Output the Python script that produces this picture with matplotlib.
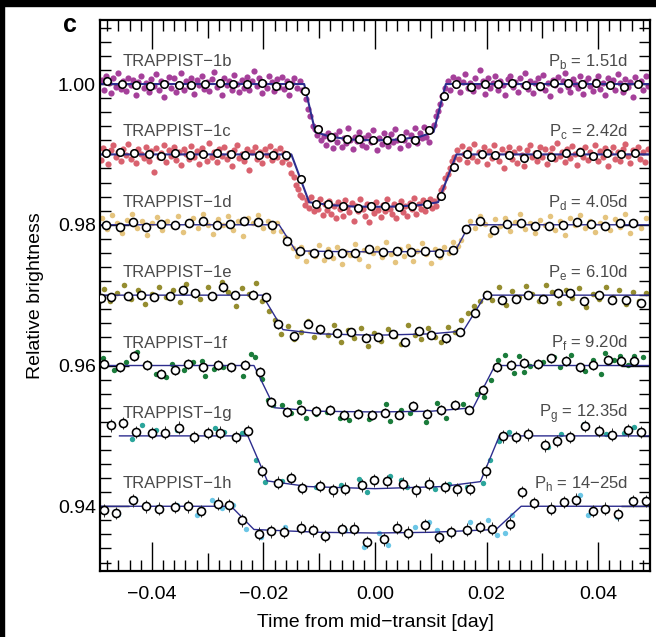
import numpy as np
import matplotlib
matplotlib.use("Agg")
import matplotlib.pyplot as plt
from matplotlib.ticker import MultipleLocator, FuncFormatter
from matplotlib.patches import Rectangle

plt.rcParams['font.family'] = ['Liberation Sans', 'DejaVu Sans']
plt.rcParams['mathtext.fontset'] = 'custom'
plt.rcParams['mathtext.rm'] = 'Liberation Sans'

# times are in 1e-3 day, fluxes in ppt relative to each curve's offset
planet_names = ['TRAPPIST−1b', 'TRAPPIST−1c', 'TRAPPIST−1d', 'TRAPPIST−1e',
                'TRAPPIST−1f', 'TRAPPIST−1g', 'TRAPPIST−1h']
planet_letters = ['b', 'c', 'd', 'e', 'f', 'g', 'h']
periods = ['1.51d', '2.42d', '4.05d', '6.10d', '9.20d', '12.35d', '14−25d']
offsets = [1.00, 0.99, 0.98, 0.97, 0.96, 0.95, 0.94]
bin_err = [0.25, 0.25, 0.45, 0.6, 0.7, 0.9, 0.9]

# --- TRAPPIST-1b
b_bin_t = [-48.1, -45.4, -42.9, -40.4, -37.9, -35.2, -32.9, -30.4, -27.7, -25.4, -23.0, -20.2, -17.8,
           -15.5, -12.5, -10.3, -7.9, -5.1, -2.8, -0.3, 2.2, 4.7, 7.2, 9.7, 12.3, 14.6, 17.2, 19.7,
           22.1, 24.6, 27.1, 29.6, 32.1, 34.6, 37.1, 39.6, 42.1, 44.6, 47.1]
b_bin_f = [0.47, 0, -0.14, -0.24, -0.05, -0.14, -0.14, -0.05, 0.09, -0.05, 0, 0.09, -0.24, -0.14,
           -0.95, -6.4, -7.5, -7.8, -7.8, -8.0, -7.9, -7.7, -8.0, -6.6, -1.7, 0, -0.47, -0.05, 0,
           0.09, -0.14, -0.24, 0.09, 0.19, -0.05, 0.09, -0.14, -0.38, 0]
b_model_t = [-49.3, -12.7, -10.7, -8.0, -4.0, 0.0, 4.0, 8.0, 10.5, 12.7, 49.3]
b_model_f = [0, 0, -6.8, -7.5, -7.9, -8.0, -7.9, -7.5, -6.8, 0, 0]
b_dots = [(-49.0, 0.6), (-48.6, -0.9), (-48.2, 1.1), (-47.7, 0.2), (-47.3, -1.3), (-46.9, 0.8), (-46.4, -0.4),
          (-46.0, 1.6), (-45.5, -0.7), (-45.1, 0.4), (-44.6, -1.0), (-44.2, 0.9), (-43.7, -0.2), (-43.3, 0.6),
          (-42.8, -1.5), (-42.4, 0.3), (-41.9, 1.2), (-41.5, -0.6), (-41.0, 0.1), (-40.6, -1.1), (-40.1, 0.7),
          (-39.7, -0.3), (-39.2, 1.4), (-38.8, -0.8), (-38.3, 0.5), (-37.9, -1.8), (-37.4, 0.2), (-37.0, 1.0),
          (-36.5, -0.5), (-36.1, 0.8), (-35.6, -1.2), (-35.2, 0.0), (-34.7, 1.5), (-34.3, -0.9), (-33.8, 0.4),
          (-33.4, -0.3), (-32.9, 0.9), (-32.5, -1.4), (-32.0, 0.6), (-31.6, -0.1), (-31.1, 1.1), (-30.7, -0.7),
          (-30.2, 0.3), (-29.8, -1.0), (-29.3, 0.7), (-28.9, 1.7), (-28.4, -0.4), (-28.0, 0.2), (-27.5, -1.6),
          (-27.1, 0.9), (-26.6, -0.2), (-26.2, 0.5), (-25.7, -0.9), (-25.3, 1.3), (-24.8, 0.0), (-24.4, -1.2),
          (-23.9, 0.6), (-23.5, -0.5), (-23.0, 1.0), (-22.6, -0.8), (-22.1, 0.4), (-21.7, 1.9), (-21.2, -0.3),
          (-20.8, 0.8), (-20.3, -1.3), (-19.9, 0.2), (-19.4, -0.6), (-19.0, 1.2), (-18.5, 0.3), (-18.1, -1.0),
          (-17.6, 0.7), (-17.2, -0.4), (-16.7, 1.0), (-16.3, -0.7), (-15.8, 0.5), (-15.4, -1.5), (-14.9, 0.1),
          (-14.5, 0.9), (-14.0, -0.5), (-13.5, 0.4), (-13.1, -0.9),
          (-12.4, -2.1), (-12.0, -3.6), (-11.6, -4.5), (-11.2, -5.9), (-10.8, -6.4),
          (-10.4, -7.2), (-10.0, -6.3), (-9.6, -8.0), (-9.2, -7.4), (-8.8, -8.6), (-8.4, -6.9), (-8.0, -7.8),
          (-7.6, -9.1), (-7.2, -7.3), (-6.8, -8.2), (-6.4, -6.7), (-6.0, -8.9), (-5.6, -7.6), (-5.2, -8.4),
          (-4.8, -6.2), (-4.4, -7.9), (-4.0, -9.3), (-3.6, -7.5), (-3.2, -8.1), (-2.8, -6.8), (-2.4, -8.7),
          (-2.0, -7.7), (-1.6, -9.0), (-1.2, -7.2), (-0.8, -8.3), (-0.4, -6.5), (0.0, -8.0), (0.4, -9.4),
          (0.8, -7.6), (1.2, -8.5), (1.6, -6.9), (2.0, -7.8), (2.4, -8.8), (2.8, -7.1), (3.2, -8.2),
          (3.6, -6.4), (4.0, -7.9), (4.4, -9.1), (4.8, -7.5), (5.2, -8.0), (5.6, -6.8), (6.0, -8.6),
          (6.4, -7.3), (6.8, -7.9), (7.2, -6.3), (7.6, -8.4), (8.0, -7.0), (8.4, -7.7), (8.8, -6.1),
          (9.2, -7.5), (9.6, -8.2), (10.0, -6.6),
          (10.5, -5.8), (10.9, -4.6), (11.3, -3.9), (11.7, -2.8), (12.1, -1.7), (12.5, -0.6),
          (13.0, 0.5), (13.4, -0.8), (13.9, 1.0), (14.3, -0.2), (14.8, 0.7), (15.2, -1.2), (15.7, 0.3),
          (16.1, 1.4), (16.6, -0.5), (17.0, 0.1), (17.5, -1.0), (17.9, 0.8), (18.4, -0.3), (18.8, 2.0),
          (19.3, 0.4), (19.7, -1.4), (20.2, 0.9), (20.6, -0.6), (21.1, 0.2), (21.5, 1.2), (22.0, -0.9),
          (22.4, 0.5), (22.9, -0.1), (23.3, -1.6), (23.8, 0.7), (24.2, 1.1), (24.7, -0.4), (25.1, 0.3),
          (25.6, -1.1), (26.0, 0.8), (26.5, -0.2), (26.9, 1.5), (27.4, -0.7), (27.8, 0.4), (28.3, -1.3),
          (28.7, 0.1), (29.2, 0.9), (29.6, -0.5), (30.1, 1.3), (30.5, -0.9), (31.0, 0.2), (31.4, -1.7),
          (31.9, 0.6), (32.3, -0.2), (32.8, 1.0), (33.2, -0.8), (33.7, 0.4), (34.1, 1.6), (34.6, -0.4),
          (35.0, -1.1), (35.5, 0.7), (35.9, 0.0), (36.4, -0.6), (36.8, 1.2), (37.3, -1.4), (37.7, 0.3),
          (38.2, 0.8), (38.6, -0.3), (39.1, -1.0), (39.5, 0.5), (40.0, 1.1), (40.4, -0.7), (40.9, 0.2),
          (41.3, -1.5), (41.8, 0.9), (42.2, -0.1), (42.7, 0.6), (43.1, -0.9), (43.6, 1.4), (44.0, 0.1),
          (44.5, -1.2), (44.9, 0.7), (45.4, -0.4), (45.8, 0.3), (46.3, -1.8), (46.7, 1.0), (47.2, -0.2),
          (47.6, 0.5), (48.1, -0.8), (48.5, 1.2), (49.0, -0.3)]

# --- TRAPPIST-1c
c_bin_t = [-48.3, -45.8, -43.2, -40.5, -38.3, -35.8, -33.1, -30.9, -28.3, -25.8, -23.3, -20.8, -18.3,
           -16.0, -13.3, -10.6, -8.5, -5.8, -3.1, -0.8, 1.8, 4.3, 6.6, 9.3, 11.8, 14.1, 16.5, 19.1,
           21.5, 24.1, 26.7, 29.0, 31.6, 34.2, 36.7, 39.1, 41.6, 44.1, 46.6]
c_bin_f = [0.14, 0.28, 0.14, 0, -0.19, 0.24, -0.09, 0, 0.14, 0, -0.09, -0.09, -0.09, -0.09, -3.5,
           -7.0, -7.1, -7.3, -7.6, -7.4, -7.3, -7.5, -7.3, -7.0, -5.9, -1.75, 0, 0, -0.09, -0.09,
           -0.57, 0, -0.33, 0.14, 0.38, -0.19, 0.14, 0, 0.14]
c_model_t = [-49.3, -15.0, -11.8, -8.0, -4.0, 0.0, 4.0, 8.0, 11.3, 14.6, 49.3]
c_model_f = [0, 0, -6.8, -7.2, -7.4, -7.45, -7.4, -7.2, -6.8, 0, 0]
c_dots = [(-49.1, -0.8), (-48.7, 0.9), (-48.2, 0.1), (-47.8, -1.4), (-47.3, 0.6), (-46.9, 1.3), (-46.4, -0.3),
          (-46.0, 0.4), (-45.5, -1.0), (-45.1, 0.8), (-44.6, -0.1), (-44.2, 1.5), (-43.7, -0.7), (-43.3, 0.3),
          (-42.8, -1.2), (-42.4, 0.7), (-41.9, 0.0), (-41.5, -0.5), (-41.0, 1.1), (-40.6, -0.9), (-40.1, 0.5),
          (-39.6, -2.5), (-39.2, 0.9), (-38.7, -0.4), (-38.3, 0.2), (-37.8, 1.4), (-37.4, -1.1), (-36.9, 0.6),
          (-36.5, -0.2), (-36.0, 1.0), (-35.6, -0.8), (-35.1, 0.3), (-34.7, -1.5), (-34.2, 0.8), (-33.8, 0.1),
          (-33.3, -0.6), (-32.9, 1.2), (-32.4, -0.3), (-32.0, 0.5), (-31.5, -1.3), (-31.1, 0.9), (-30.6, 0.0),
          (-30.2, -0.9), (-29.7, 1.6), (-29.3, -0.4), (-28.8, 0.4), (-28.4, -1.1), (-27.9, 0.7), (-27.5, -0.2),
          (-27.0, 1.1), (-26.6, -0.7), (-26.1, 0.2), (-25.7, -1.6), (-25.2, 0.6), (-24.8, 1.3), (-24.3, -0.5),
          (-23.9, 0.1), (-23.4, -1.0), (-23.0, 0.8), (-22.5, -2.2), (-22.1, 0.4), (-21.6, 1.0), (-21.2, -0.6),
          (-20.7, 0.3), (-20.3, -1.2), (-19.8, 0.7), (-19.4, -0.1), (-18.9, 1.2), (-18.5, -0.8), (-18.0, 0.5),
          (-17.6, -0.4), (-17.1, 0.9), (-16.7, -1.1), (-16.3, 0.2), (-15.9, -0.5),
          (-15.4, -1.4), (-15.0, -2.6), (-14.6, -3.2), (-14.2, -4.4), (-13.8, -4.9), (-13.4, -5.8),
          (-13.0, -6.1), (-12.6, -7.2), (-12.2, -6.5),
          (-11.8, -7.6), (-11.4, -6.0), (-11.0, -8.1), (-10.6, -6.9), (-10.2, -7.8), (-9.8, -6.3), (-9.4, -8.6),
          (-9.0, -7.1), (-8.6, -7.9), (-8.2, -6.6), (-7.8, -8.4), (-7.4, -7.3), (-7.0, -9.0), (-6.6, -6.8),
          (-6.2, -7.7), (-5.8, -8.8), (-5.4, -6.5), (-5.0, -7.5), (-4.6, -8.2), (-4.2, -6.9), (-3.8, -9.4),
          (-3.4, -7.4), (-3.0, -8.0), (-2.6, -6.4), (-2.2, -7.8), (-1.8, -8.7), (-1.4, -7.0), (-1.0, -9.6),
          (-0.6, -7.6), (-0.2, -8.3), (0.2, -6.7), (0.6, -7.9), (1.0, -8.9), (1.4, -7.2), (1.8, -8.1),
          (2.2, -6.3), (2.6, -7.7), (3.0, -8.5), (3.4, -7.0), (3.8, -9.1), (4.2, -7.5), (4.6, -6.6),
          (5.0, -8.2), (5.4, -7.3), (5.8, -8.8), (6.2, -6.9), (6.6, -7.8), (7.0, -6.2), (7.4, -8.4),
          (7.8, -7.1), (8.2, -7.7), (8.6, -6.5), (9.0, -8.0), (9.4, -7.0), (9.8, -6.3), (10.2, -7.6),
          (10.6, -6.6), (11.0, -7.3),
          (11.4, -6.1), (11.8, -5.0), (12.2, -4.6), (12.6, -3.4), (13.0, -2.8), (13.4, -1.9), (13.8, -1.0),
          (14.2, -0.3),
          (14.7, 0.6), (15.1, -0.7), (15.6, 1.2), (16.0, 0.1), (16.5, -1.1), (16.9, 0.8), (17.4, -0.3),
          (17.8, 1.5), (18.3, -0.9), (18.7, 0.4), (19.2, -0.2), (19.6, 1.0), (20.1, -1.4), (20.5, 0.5),
          (21.0, -0.5), (21.4, 1.3), (21.9, 0.0), (22.3, -1.0), (22.8, 0.7), (23.2, -2.0), (23.7, 0.2),
          (24.1, 1.1), (24.6, -0.6), (25.0, 0.4), (25.5, -1.2), (25.9, 0.9), (26.4, -0.1), (26.8, -1.7),
          (27.3, 0.6), (27.7, 1.4), (28.2, -0.4), (28.6, 0.2), (29.1, -0.9), (29.5, 1.0), (30.0, -0.3),
          (30.4, 0.7), (30.9, -1.3), (31.3, 0.1), (31.8, 0.9), (32.2, -0.7), (32.7, 1.6), (33.1, -0.2),
          (33.6, 0.4), (34.0, -1.1), (34.5, 0.8), (34.9, -0.5), (35.4, 1.2), (35.8, 0.0), (36.3, -1.5),
          (36.7, 0.6), (37.2, -0.3), (37.6, 1.0), (38.1, -0.8), (38.5, 0.3), (39.0, -0.1), (39.4, 1.3),
          (39.9, -1.0), (40.3, 0.5), (40.8, -0.4), (41.2, 0.9), (41.7, -1.6), (42.1, 0.2), (42.6, 1.1),
          (43.0, -0.6), (43.5, 0.4), (43.9, -0.9), (44.4, 0.7), (44.8, 1.5), (45.3, -0.2), (45.7, -1.2),
          (46.2, 0.6), (46.6, 0.0), (47.1, 1.0), (47.5, -0.7), (48.0, 0.3), (48.4, -1.1), (48.9, 0.8)]

# --- TRAPPIST-1d
d_bin_t = [-48.3, -45.8, -43.3, -41.1, -38.4, -35.9, -33.4, -30.9, -28.4, -26.0, -23.5, -20.9, -18.4,
           -15.7, -13.5, -10.9, -8.4, -6.0, -3.5, -1.0, 1.4, 4.0, 6.4, 8.9, 11.4, 14.0, 16.4, 18.9,
           21.4, 23.7, 26.2, 28.7, 31.2, 33.7, 36.2, 38.7, 41.3, 43.9, 46.3]
d_bin_f = [-0.05, -0.28, 0.43, -0.28, 0.09, -0.05, 0.19, 0.52, -0.05, 0.09, 0.52, 0.33, -0.05, -2.27,
           -3.7, -4.0, -4.1, -4.0, -4.0, -3.4, -3.8, -3.7, -3.8, -3.7, -4.0, -3.6, -0.66, 0.57, -0.76,
           0.09, 0.28, -0.14, -0.14, -0.05, 0.43, 0.05, -0.14, 0.19, 0.19]
d_model_t = [-49.3, -17.2, -14.2, -8.0, 0.0, 8.0, 14.4, 16.9, 49.3]
d_model_f = [0, 0, -3.7, -3.8, -3.85, -3.8, -3.7, 0, 0]
d_dots = [(-48.9, 0.9), (-48.0, -0.6), (-47.1, 1.4), (-46.2, 0.2), (-45.3, -1.1), (-44.4, 0.7), (-43.5, 1.6),
          (-42.6, -0.4), (-41.7, 0.5), (-40.8, -1.5), (-39.9, 0.3), (-39.0, 1.1), (-38.1, -0.8), (-37.2, 0.6),
          (-36.3, -0.2), (-35.4, 1.3), (-34.5, -1.0), (-33.6, 0.4), (-32.7, 0.9), (-31.8, -0.5), (-30.9, 1.5),
          (-30.0, -0.1), (-29.1, -1.3), (-28.2, 0.8), (-27.3, 0.0), (-26.4, 1.2), (-25.5, -0.7), (-24.6, 0.5),
          (-23.7, -1.6), (-22.8, 0.9), (-21.9, 0.2), (-21.0, 1.4), (-20.1, -0.4), (-19.2, 0.6), (-18.3, -0.9),
          (-17.5, 0.3), (-16.8, -0.9), (-16.1, -1.8), (-15.4, -2.6), (-14.7, -3.3),
          (-14.0, -4.5), (-13.2, -3.1), (-12.4, -5.2), (-11.6, -3.8), (-10.8, -4.4), (-10.0, -2.9), (-9.2, -5.0),
          (-8.4, -3.5), (-7.6, -4.7), (-6.8, -3.2), (-6.0, -5.6), (-5.2, -3.9), (-4.4, -4.3), (-3.6, -2.8),
          (-2.8, -4.9), (-2.0, -3.6), (-1.2, -5.8), (-0.4, -4.0), (0.4, -3.3), (1.2, -4.6), (2.0, -2.5),
          (2.8, -4.1), (3.6, -5.3), (4.4, -3.4), (5.2, -4.4), (6.0, -3.0), (6.8, -5.1), (7.6, -3.7),
          (8.4, -2.6), (9.2, -4.2), (10.0, -5.5), (10.8, -3.5), (11.6, -4.6), (12.4, -3.1), (13.2, -4.0),
          (14.0, -2.4), (14.8, -3.0), (15.5, -2.1), (16.2, -0.9),
          (17.0, 0.6), (17.9, -0.5), (18.8, 1.3), (19.7, 0.1), (20.6, -1.4), (21.5, 0.8), (22.4, -0.2),
          (23.3, 1.0), (24.2, -0.9), (25.1, 0.4), (26.0, 1.6), (26.9, -0.6), (27.8, 0.2), (28.7, -1.2),
          (29.6, 0.7), (30.5, -0.1), (31.4, 1.2), (32.3, -0.8), (33.2, 0.5), (34.1, -1.5), (35.0, 0.9),
          (35.9, 0.0), (36.8, 1.4), (37.7, -0.4), (38.6, 0.6), (39.5, -1.0), (40.4, 0.3), (41.3, 1.1),
          (42.2, -0.7), (43.1, 0.8), (44.0, -0.3), (44.9, 1.5), (45.8, -1.1), (46.7, 0.4), (47.6, -0.5),
          (48.5, 1.0)]

# --- TRAPPIST-1e
e_bin_t = [-49.2, -47.3, -44.3, -42.0, -39.7, -36.8, -34.5, -32.3, -29.3, -27.2, -25.1, -21.8, -19.5,
           -17.3, -14.5, -12.1, -9.9, -6.9, -4.3, -1.6, 0.6, 3.3, 5.4, 7.9, 10.1, 12.8, 15.3, 17.9,
           20.0, 22.8, 25.3, 27.5, 30.2, 32.8, 35.0, 37.5, 40.2, 42.5, 45.0, 47.7]
e_bin_f = [-0.47, -0.33, -0.14, 0, -0.24, -0.09, 0.71, 0.24, -0.09, 1.09, 0, 0.09, -0.33, -4.17,
           -5.83, -4.12, -4.88, -5.36, -5.21, -6.02, -5.92, -5.55, -6.64, -5.07, -5.69, -6.16, -5.21,
           -2.51, 0, -0.71, -0.57, 0, -0.57, 0.24, 0.24, -0.81, 0, -0.62, -0.71, -1.09]
e_model_t = [-49.3, -20.2, -16.5, -10.0, 0.0, 10.0, 15.8, 19.8, 49.3]
e_model_f = [0, 0, -4.9, -5.5, -5.7, -5.5, -5.1, 0, 0]
e_dots = [(-48.6, 0.9), (-47.5, -0.8), (-46.3, 0.3), (-45.0, 1.4), (-43.8, -0.5), (-42.5, 0.7), (-41.3, -1.2),
          (-40.0, 0.2), (-38.8, 1.1), (-37.5, -0.3), (-36.3, 0.8), (-35.0, -1.0), (-33.8, 1.6), (-32.5, 0.4),
          (-31.3, -0.6), (-30.0, 1.2), (-28.8, -0.2), (-27.5, 1.9), (-26.3, 0.5), (-25.0, -1.5), (-23.8, 1.0),
          (-22.5, 0.1), (-21.3, 1.7), (-20.2, -0.9), (-19.0, -2.2), (-17.9, -3.6), (-16.8, -5.5),
          (-15.6, -4.4), (-14.5, -6.3), (-13.3, -5.2), (-12.1, -3.7), (-10.9, -6.0), (-9.7, -4.9), (-8.5, -5.6),
          (-7.3, -4.3), (-6.1, -6.7), (-4.9, -5.0), (-3.7, -6.1), (-2.5, -4.6), (-1.3, -7.2), (-0.1, -5.4),
          (1.1, -6.5), (2.3, -4.8), (3.5, -5.8), (4.7, -6.9), (5.9, -4.2), (7.1, -5.6), (8.3, -6.3),
          (9.5, -4.7), (10.7, -5.9), (11.9, -6.6), (13.1, -4.5), (14.3, -5.3), (15.5, -3.5), (16.7, -2.6),
          (17.8, -1.5), (18.9, -0.9), (19.9, 0.3), (21.0, -0.7), (22.2, 1.1), (23.4, -1.4), (24.6, 0.6),
          (25.8, -0.2), (27.0, 1.3), (28.2, 0.1), (29.4, -0.9), (30.6, 1.5), (31.8, 0.4), (33.0, -1.1),
          (34.2, 0.8), (35.4, -0.4), (36.6, 1.0), (37.8, -1.7), (39.0, 0.2), (40.2, -0.6), (41.4, 1.2),
          (42.6, -0.3), (43.8, 0.7), (45.0, -1.3), (46.2, 0.5), (47.4, -0.8), (48.6, 0.3)]

# --- TRAPPIST-1f
f_bin_t = [-48.5, -45.8, -43.2, -40.8, -38.3, -35.8, -33.5, -30.8, -28.2, -25.9, -23.3, -20.7, -18.6,
           -15.8, -13.3, -10.6, -8.1, -5.6, -3.1, -0.6, 1.8, 4.3, 6.9, 9.3, 11.8, 14.4, 16.8, 19.3,
           21.8, 24.3, 26.8, 29.3, 31.6, 34.2, 36.8, 39.1, 41.8, 44.1, 46.5]
f_bin_f = [0.28, -0.28, 1.33, 0.05, -1.14, -0.66, 0.19, -0.28, 0.05, -0.28, 0.05, -0.9, -5.17, -6.59,
           -6.35, -6.45, -6.35, -7.06, -6.92, -7.06, -6.68, -6.97, -5.78, -6.92, -6.35, -5.64, -6.26,
           -3.41, -0.28, 0.05, 0.38, 0.19, 1.0, 0.62, -0.28, 0.05, 0.76, 0.66, 0.66]
f_model_t = [-49.3, -21.7, -18.0, -10.0, 0.0, 10.0, 17.6, 21.5, 49.3]
f_model_f = [0, 0, -6.0, -6.5, -6.6, -6.5, -6.0, 0, 0]
f_dots = [(-48.8, 1.0), (-46.8, -0.66), (-44.6, 0.52), (-42.7, 1.94), (-40.5, 0.28), (-39.2, -1.14),
          (-37.4, -1.61), (-36.4, 0.28), (-34.2, -0.57), (-32.7, 0.52), (-31.1, 0.66), (-30.5, -1.52),
          (-28.9, -0.43), (-27.2, -0.19), (-23.7, -1.52), (-22.2, 1.61), (-21.6, 1.23), (-20.2, -1.85),
          (-19.2, -4.93), (-18.3, -5.64), (-16.7, -5.64), (-15.1, -6.73), (-13.7, -5.17), (-12.3, -7.39),
          (-10.6, -6.82), (-8.6, -6.59), (-6.2, -7.39), (-4.7, -7.68), (-2.9, -6.59), (-1.1, -7.54),
          (1.9, -5.50), (2.6, -7.87), (4.6, -6.35), (6.3, -6.73), (9.1, -8.01), (11.1, -5.31), (12.7, -7.39),
          (15.8, -5.50), (18.3, -3.98), (19.6, -4.45), (20.8, -1.99), (22.1, 0.76), (23.3, 1.47),
          (24.9, -1.04), (25.9, 1.33), (26.8, -0.90), (27.7, -0.09), (30.2, 0.52), (32.1, 1.23),
          (33.1, -0.19), (35.2, 1.47), (37.7, -0.76), (39.0, 0.76), (40.6, -1.14), (41.2, 1.71),
          (42.8, 0.76), (44.0, 1.33), (45.3, 0.05), (46.5, 1.33), (48.1, 1.23)]

# --- TRAPPIST-1g
g_bin_t = [-47.4, -45.2, -42.8, -39.9, -37.7, -35.2, -32.5, -30.0, -27.8, -24.9, -22.7, -20.3, -17.3,
           -15.1, -13.0, -9.9, -7.6, -5.4, -2.4, -0.1, 2.1, 5.1, 7.4, 9.6, 12.6, 14.7, 17.1, 19.9,
           23.0, 25.2, 27.4, 30.4, 32.6, 34.9, 37.7, 40.1, 42.4, 45.4, 47.6]
g_bin_f = [1.52, 1.85, 0.57, 0.43, 0.47, 1.18, -0.14, 0.43, 0.47, -0.14, 0.71, -4.98, -6.64, -5.97,
           -7.39, -7.11, -7.73, -7.49, -7.01, -6.30, -6.45, -6.78, -7.73, -6.78, -7.25, -7.58, -7.49,
           -5.02, -0.05, -0.14, 0.24, -1.33, -0.71, -0.14, 1.42, 0.71, 0.19, 0.81, 0.57]
g_model_t = [-45.8, -22.8, -19.3, -12.0, 0.0, 12.0, 18.9, 22.3, 49.3]
g_model_f = [0, 0, -6.4, -7.2, -7.5, -7.2, -6.5, 0, 0]
g_dots = [(-47.7, 1.66), (-43.5, -0.38), (-41.8, 1.52), (-39.2, 0.81), (-35.5, 0.90), (-32.7, -0.24),
          (-28.6, 1.18), (-27.0, 0.57), (-23.9, 0.43), (-21.4, -3.36), (-19.8, -6.54), (-16.7, -6.45),
          (-10.5, -7.25), (-6.1, -7.01), (-2.9, -6.07), (-1.4, -7.96), (2.6, -5.73), (4.6, -6.21),
          (5.8, -7.25), (9.3, -6.68), (10.8, -7.49), (13.3, -6.87), (16.5, -7.25), (19.3, -6.68),
          (20.7, -3.36), (22.3, -0.71), (24.0, 0.57), (31.0, -1.56), (33.4, 0.33), (37.4, 1.66),
          (41.5, 0.33), (44.6, 0.43), (46.5, 1.28)]

# --- TRAPPIST-1h
h_bin_t = [-48.5, -46.4, -43.3, -41.1, -38.7, -35.9, -33.6, -31.2, -28.2, -26.1, -23.9, -20.8, -18.6,
           -16.3, -13.3, -11.1, -8.9, -5.9, -3.7, -1.4, 1.6, 3.9, 6.0, 9.0, 11.4, 13.7, 16.5, 18.8,
           21.0, 24.2, 26.4, 28.5, 31.6, 33.8, 36.0, 39.0, 41.3, 43.5, 46.3, 48.6]
h_bin_f = [-0.57, -0.95, 0.85, 0, -0.33, -0.09, 0, -0.66, 0.38, 0.14, -1.99, -3.89, -3.55, -3.65,
           -3.03, -3.41, -4.22, -3.27, -3.18, -5.07, -4.69, -3.03, -3.74, -2.70, -4.36, -3.65, -3.32,
           -2.94, -3.18, -2.46, 2.04, 0.47, -0.33, 0.62, 0.95, -0.66, -0.33, -1.14, 0.76, 0.76]
h_model_t = [-49.3, -25.8, -21.7, -10.0, 0.0, 10.0, 21.7, 26.2, 49.3]
h_model_f = [0, 0, -3.3, -3.7, -3.8, -3.7, -3.3, 0, 0]
h_dots = [(-48.6, -0.47), (-46.1, -1.14), (-43.0, 1.09), (-38.9, -0.09), (-35.5, 0.14), (-32.0, -1.28),
          (-29.2, 0.85), (-27.4, -0.19), (-25.5, 0.14), (-23.1, -3.18), (-20.5, -4.36), (-16.1, -2.94),
          (-13.0, -3.03), (-5.4, -3.41), (-2.0, -5.78), (0.8, -3.79), (2.4, -5.55), (7.1, -2.94),
          (9.6, -2.23), (11.1, -3.41), (13.6, -3.89), (17.1, -2.23), (20.2, -1.99), (21.8, -4.12),
          (23.3, -3.79), (24.6, -1.28), (28.4, 0.62), (31.5, -0.57), (36.8, 1.56), (38.1, -1.28),
          (43.4, -1.52), (45.9, 0.85)]

bins_t = [b_bin_t, c_bin_t, d_bin_t, e_bin_t, f_bin_t, g_bin_t, h_bin_t]
bins_f = [b_bin_f, c_bin_f, d_bin_f, e_bin_f, f_bin_f, g_bin_f, h_bin_f]
models_t = [b_model_t, c_model_t, d_model_t, e_model_t, f_model_t, g_model_t, h_model_t]
models_f = [b_model_f, c_model_f, d_model_f, e_model_f, f_model_f, g_model_f, h_model_f]
dots = [b_dots, c_dots, d_dots, e_dots, f_dots, g_dots, h_dots]

# styles
dot_colors = ['#a5409a', '#d9626f', '#e5c47e', '#958d30', '#1b7c3b', '#2ba59b', '#6cc6e6']
dot_size = [20, 20, 16, 16, 15, 15, 15]
model_lw = [1.5, 1.5, 1.0, 1.0, 1.0, 1.0, 1.0]
label_color = '#4a4a4a'
model_color = '#2d2d8e'

fig = plt.figure(figsize=(6.56, 6.37), dpi=100)
ax = fig.add_axes([100 / 656, 66 / 637, 550 / 656, 551 / 637])

for i in range(len(offsets)):
    base = offsets[i]
    dt, df = np.array(dots[i]).T
    ax.scatter(dt * 1e-3, base + df * 1e-3, s=dot_size[i], color=dot_colors[i], linewidths=0, zorder=1)
    ax.plot(np.array(models_t[i]) * 1e-3, base + np.array(models_f[i]) * 1e-3,
            color=model_color, lw=model_lw[i], zorder=2)
    bt = np.array(bins_t[i]) * 1e-3
    bf = base + np.array(bins_f[i]) * 1e-3
    ax.errorbar(bt, bf, yerr=bin_err[i] * 1e-3, fmt='none', ecolor='#333333', elinewidth=0.7,
                capsize=0, zorder=3)
    ax.plot(bt, bf, 'o', ms=5.8 if i > 1 else 5.4, mfc='white', mec='black', mew=1.15, zorder=4)
    ax.text(-0.0452, base + 0.0032, planet_names[i], color=label_color, fontsize=12,
            ha='left', va='center', zorder=0.5)
    ax.text(0.0453, base + 0.0032, 'P$_\\mathregular{%s}$ = %s' % (planet_letters[i], periods[i]),
            color=label_color, fontsize=12, ha='right', va='center', zorder=0.5)

ax.set_xlim(-0.0493, 0.0493)
ax.set_ylim(0.9308, 1.0091)


def fmt(v, _):
    if abs(v) < 1e-9:
        v = 0.0
    return ('%.2f' % v).replace('-', '\u2212')


ax.xaxis.set_major_locator(MultipleLocator(0.02))
ax.xaxis.set_minor_locator(MultipleLocator(0.002))
ax.yaxis.set_major_locator(MultipleLocator(0.02))
ax.yaxis.set_minor_locator(MultipleLocator(0.002))
ax.xaxis.set_major_formatter(FuncFormatter(fmt))
ax.yaxis.set_major_formatter(FuncFormatter(fmt))
ax.tick_params(which='both', direction='in', top=True, right=True, width=1.0, labelsize=14)
ax.tick_params(which='major', length=21)
ax.tick_params(which='minor', length=8)
ax.tick_params(axis='x', pad=11)
ax.tick_params(axis='y', pad=3)
for sp in ax.spines.values():
    sp.set_linewidth(1.6)

ax.set_xlabel('Time from mid−transit [day]', fontsize=14, labelpad=8)
ax.set_ylabel('Relative brightness', fontsize=14, labelpad=10)

# medium ticks at every 0.01 on the x axis
fig.canvas.draw()
for tick, loc in zip(ax.xaxis.get_minor_ticks(), ax.xaxis.get_minorticklocs()):
    if abs(loc / 0.01 - round(loc / 0.01)) < 1e-6:
        tick.tick1line.set_markersize(13)
        tick.tick2line.set_markersize(13)

fig.text(70 / 656, 1 - 25 / 637, 'c', fontsize=18, fontweight='bold', ha='center', va='center')
fig.add_artist(Rectangle((0, 1 - 6 / 637), 1, 6 / 637, transform=fig.transFigure,
                         color='black', zorder=10))
fig.add_artist(Rectangle((0, 0), 4 / 656, 1, transform=fig.transFigure, color='black', zorder=10))

fig.savefig('out.png', dpi=100)
